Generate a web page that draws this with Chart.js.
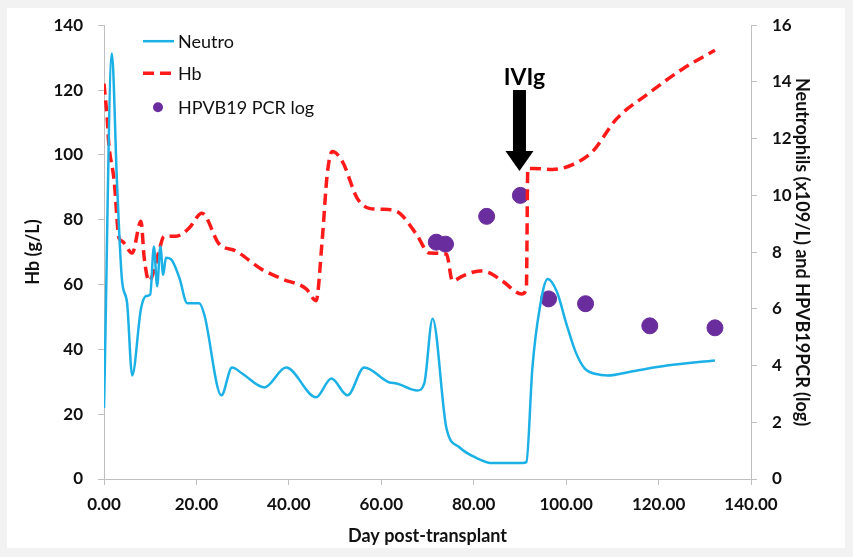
<!DOCTYPE html>
<html>
<head>
<meta charset="utf-8">
<script src="https://cdn.jsdelivr.net/npm/chart.js@4.4.1/dist/chart.umd.min.js"></script>
<style>
  html, body { margin: 0; padding: 0; background: #f2f2f2; }
  canvas { display: block; }
</style>
</head>
<body>
<canvas id="grafico" width="853" height="557"></canvas>
<script>
// Neutrophils (x10^9/L), right axis
const neutroDays = [0, 1.7, 2.8, 3.9, 5.0, 6.1, 8.0, 9.1, 10.0, 10.8, 11.5, 12.2, 12.8, 13.4, 14.5, 16.3, 18.0, 20.6, 21.7, 25.4, 27.7, 29.9, 34.7, 39.4, 45.9, 49.2, 52.7, 56.3, 61.8, 63.3, 67.8, 69.3, 71.1, 74.1, 76.9, 80.6, 84.1, 90.6, 91.4, 92.7, 94.3, 96.0, 98.0, 100.0, 102.0, 104.0, 106.5, 109.0, 114.4, 121.8, 132.2];
const neutroValues = [2.5, 15.0, 10.5, 7.0, 6.2, 3.65, 6.0, 6.45, 6.5, 8.2, 6.8, 8.2, 7.2, 7.8, 7.75, 7.1, 6.2, 6.2, 5.8, 2.95, 3.93, 3.72, 3.23, 3.93, 2.88, 3.54, 2.95, 3.93, 3.40, 3.37, 3.12, 3.37, 5.65, 1.79, 1.12, 0.74, 0.56, 0.56, 0.6, 3.93, 6.04, 7.05, 6.6, 5.5, 4.5, 3.9, 3.7, 3.65, 3.8, 4.0, 4.18];

// Haemoglobin (g/L), left axis
const hbDays = [0, 0.7, 1.0, 2.2, 3.25, 3.9, 6.1, 8.0, 8.7, 9.75, 10.8, 11.9, 13.0, 15.6, 18.4, 21.2, 24.9, 28.6, 34.0, 38.6, 43.8, 45.9, 47.2, 48.3, 49.4, 51.6, 54.8, 57.4, 60.2, 63.3, 67.6, 70.4, 74.1, 75.4, 77.6, 81.3, 83.4, 86.2, 90.4, 91.4, 91.7, 92.7, 97.1, 101.4, 105.7, 110.9, 117.4, 125.2, 132.2];
const hbValues = [122, 111, 104, 92, 74.3, 73.4, 69.7, 79.5, 68.2, 61.1, 64.2, 70.3, 74.9, 74.9, 77.4, 82.0, 72.5, 70.3, 64.8, 61.7, 58.6, 55.0, 73.4, 94.0, 101.0, 97.9, 86.6, 83.5, 83.2, 82.6, 75.5, 69.7, 69.4, 61.1, 62.6, 64.2, 63.6, 61.1, 57.1, 58.9, 95.8, 95.8, 95.5, 97.0, 101.0, 111.1, 118.5, 126.5, 132.3];

// HPVB19 PCR (log), right axis
const pcrDays = [71.9, 73.9, 82.8, 90.1, 96.2, 104.2, 118.1, 132.2];
const pcrValues = [8.35, 8.28, 9.26, 10.0, 6.35, 6.18, 5.4, 5.33];

// ticks
const xTicks = [0, 20, 40, 60, 80, 100, 120, 140];
const hbTicks = [0, 20, 40, 60, 80, 100, 120, 140];
const rightTicks = [0, 2, 4, 6, 8, 10, 12, 14, 16];

// IVIg marker (day, arrow from/to in Hb units)
const ivigDay = 89.9;
const ivigFrom = 120;
const ivigTo = 95;

const pares = (xs, ys) => xs.map((d, i) => ({ x: d, y: ys[i] }));

const corEixo = '#bfbfbf';
const corTexto = '#111111';
const fonte = 'Lato, "Liberation Sans", sans-serif';
const fonteTick = { family: fonte, size: 17, weight: 'bold' };
const fonteTitulo = { family: fonte, size: 18, weight: 'bold' };

// fundo com borda cinza clara
const fundo = {
  id: 'fundo',
  beforeDraw(chart) {
    const ctx = chart.ctx;
    ctx.save();
    ctx.fillStyle = '#f2f2f2';
    ctx.fillRect(0, 0, chart.width, chart.height);
    ctx.fillStyle = '#ffffff';
    ctx.fillRect(7, 8, 838, 540);
    ctx.restore();
  }
};

// legenda dentro da área do gráfico
const legenda = {
  id: 'legenda',
  afterDraw(chart) {
    const ctx = chart.ctx;
    const a = chart.chartArea;
    const x0 = a.left + 39;
    const linhas = [a.top + 16, a.top + 48, a.top + 82];
    ctx.save();
    ctx.font = '18px ' + fonte;
    ctx.textBaseline = 'middle';
    chart.data.datasets.forEach((ds, i) => {
      const y = linhas[i];
      if (ds.type === 'scatter') {
        ctx.beginPath();
        ctx.fillStyle = ds.backgroundColor;
        ctx.arc(x0 + 15, y, 5, 0, Math.PI * 2);
        ctx.fill();
      } else {
        ctx.beginPath();
        ctx.strokeStyle = ds.borderColor;
        ctx.lineWidth = ds.borderWidth;
        ctx.setLineDash(ds.borderDash || []);
        ctx.moveTo(x0, y);
        ctx.lineTo(x0 + 31, y);
        ctx.stroke();
        ctx.setLineDash([]);
      }
      ctx.fillStyle = corTexto;
      ctx.fillText(ds.label, x0 + 35, y + 1);
    });
    ctx.restore();
  }
};

// seta do IVIg
const seta = {
  id: 'seta',
  afterDraw(chart) {
    const ctx = chart.ctx;
    const x = chart.scales.x.getPixelForValue(ivigDay);
    const yTop = chart.scales.y.getPixelForValue(ivigFrom);
    const yTip = chart.scales.y.getPixelForValue(ivigTo);
    const cabeca = 20;
    ctx.save();
    ctx.fillStyle = '#000000';
    ctx.fillRect(x - 6.5, yTop, 13, yTip - yTop - cabeca + 1);
    ctx.beginPath();
    ctx.moveTo(x - 14, yTip - cabeca);
    ctx.lineTo(x + 14, yTip - cabeca);
    ctx.lineTo(x, yTip);
    ctx.closePath();
    ctx.fill();
    ctx.font = 'bold 23px ' + fonte;
    ctx.textAlign = 'center';
    ctx.textBaseline = 'middle';
    ctx.fillText('IVIg', x + 5, yTop - 12);
    ctx.restore();
  }
};

const ctx = document.getElementById('grafico').getContext('2d');
const grafico = new Chart(ctx, {
  type: 'line',
  data: {
    datasets: [
      {
        label: 'Neutro',
        data: pares(neutroDays, neutroValues),
        yAxisID: 'y2',
        borderColor: '#1cb1e6',
        borderWidth: 2.5,
        pointRadius: 0,
        cubicInterpolationMode: 'monotone',
        fill: false
      },
      {
        label: 'Hb',
        data: pares(hbDays, hbValues),
        yAxisID: 'y',
        borderColor: '#ff1a1a',
        borderWidth: 3.5,
        borderDash: [11, 6],
        pointRadius: 0,
        cubicInterpolationMode: 'monotone',
        fill: false
      },
      {
        type: 'scatter',
        label: 'HPVB19 PCR log',
        data: pares(pcrDays, pcrValues),
        yAxisID: 'y2',
        backgroundColor: '#6a2d9e',
        borderColor: '#6a2d9e',
        pointRadius: 8,
        pointHoverRadius: 8,
        showLine: false
      }
    ]
  },
  options: {
    responsive: false,
    animation: false,
    layout: { padding: { top: 23, left: 0, right: 0, bottom: 0 } },
    plugins: {
      legend: { display: false },
      tooltip: { enabled: false }
    },
    scales: {
      x: {
        type: 'linear',
        min: 0,
        max: 140,
        afterBuildTicks: (s) => { s.ticks = xTicks.map(v => ({ value: v })); },
        afterFit: (s) => { s.height = 78; },
        ticks: {
          autoSkip: false,
          maxRotation: 0,
          padding: 9,
          color: corTexto,
          font: fonteTick,
          callback: (v) => v.toFixed(2)
        },
        grid: { drawOnChartArea: false, tickLength: 6, color: corEixo },
        border: { color: corEixo, width: 1 },
        title: {
          display: true,
          text: 'Day post-transplant',
          color: corTexto,
          font: fonteTitulo,
          padding: { top: 0, bottom: 10 }
        }
      },
      y: {
        position: 'left',
        min: 0,
        max: 140,
        afterBuildTicks: (s) => { s.ticks = hbTicks.map(v => ({ value: v })); },
        afterFit: (s) => { s.width = 104; },
        ticks: {
          padding: 15,
          color: corTexto,
          font: fonteTick
        },
        grid: { drawOnChartArea: false, tickLength: 6, color: corEixo },
        border: { color: corEixo, width: 1 },
        title: {
          display: true,
          text: 'Hb (g/L)',
          color: corTexto,
          font: fonteTitulo,
          padding: { top: 22, bottom: 0 }
        }
      },
      y2: {
        position: 'right',
        min: 0,
        max: 16,
        afterBuildTicks: (s) => { s.ticks = rightTicks.map(v => ({ value: v })); },
        afterFit: (s) => { s.width = 102; },
        ticks: {
          padding: 15,
          color: corTexto,
          font: fonteTick
        },
        grid: { drawOnChartArea: false, tickLength: 6, color: corEixo },
        border: { color: corEixo, width: 1 },
        title: {
          display: true,
          text: 'Neutrophils (x109/L) and HPVB19PCR (log)',
          color: corTexto,
          font: fonteTitulo,
          padding: { top: 40, bottom: 0 }
        }
      }
    }
  },
  plugins: [fundo, legenda, seta]
});
</script>
</body>
</html>
